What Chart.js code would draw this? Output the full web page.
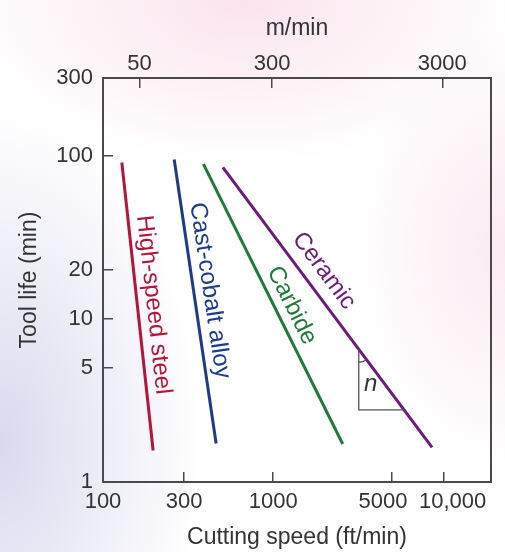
<!DOCTYPE html>
<html>
<head>
<meta charset="utf-8">
<title>Tool life vs cutting speed</title>
<script src="https://cdn.jsdelivr.net/npm/chart.js@4.4.1/dist/chart.umd.min.js"></script>
<style>
    html, body { margin: 0; padding: 0; }
    body {
        width: 505px;
        height: 552px;
        overflow: hidden;
        background:
            radial-gradient(ellipse 55% 30% at 48% 0%, rgba(246, 205, 222, 0.55), rgba(246, 205, 222, 0) 100%),
            radial-gradient(ellipse 30% 40% at 100% 45%, rgba(246, 208, 225, 0.45), rgba(246, 208, 225, 0) 100%),
            radial-gradient(ellipse 40% 60% at 0% 80%, rgba(205, 205, 232, 0.75), rgba(205, 205, 232, 0) 100%),
            #ffffff;
    }
    canvas { display: block; }
</style>
</head>
<body>
<canvas id="toolLifeChart" width="505" height="552"></canvas>
<script>
// Taylor tool-life lines (end points of each line)
const tools = ['High-speed steel', 'Cast-cobalt alloy', 'Carbide', 'Ceramic'];
const speedStart = [129, 262, 389, 506];      // ft/min, upper end
const speedEnd = [197, 462, 2560, 8570];      // ft/min, lower end
const lifeStart = [91, 95, 89, 85];           // min, upper end
const lifeEnd = [1.56, 1.72, 1.71, 1.63];     // min, lower end

// Axis ticks
const speedTicks = [100, 300, 1000, 5000, 10000];   // ft/min
const metricTicks = [50, 300, 3000];                // m/min
const lifeTicks = [1, 5, 10, 20, 100, 300];         // min

const SPEED_MIN = 100, SPEED_MAX = 19000;
const LIFE_MIN = 1, LIFE_MAX = 300;
const FT_PER_M = 3.281;

// slope triangle on the ceramic line
const slopeSpeed = 3180;
const slopeLife = 2.77;

const toolColors = ['#b3163a', '#1d3a8c', '#1f7a3c', '#6b1c78'];
const labelAt = [0.5, 0.47, 0.53, 0.41];
const labelOffset = [16, 16, 16, 19];

const FONT = "'Liberation Sans', Arial, Helvetica, sans-serif";
const AXIS_COLOR = '#4a4a4a';
const TEXT_COLOR = '#333333';

function fixedTicks(values) {
    return function(scale) {
        scale.ticks = values.map(v => ({ value: v }));
    };
}

function fixSize(prop, size) {
    return function(scale) {
        scale[prop] = size;
    };
}

// the two crowded labels at the right end are nudged apart, as in the figure
function speedLabel(v) {
    if (v === 5000) return '5000   ';
    if (v >= 10000) return '   ' + Number(v).toLocaleString('en-US');
    return String(v);
}

function linePixels(chart, ds) {
    const xs = chart.scales.x, ys = chart.scales.y;
    return [
        { x: xs.getPixelForValue(ds.data[0].x), y: ys.getPixelForValue(ds.data[0].y) },
        { x: xs.getPixelForValue(ds.data[1].x), y: ys.getPixelForValue(ds.data[1].y) }
    ];
}

// Rotated labels running along each line
const lineLabels = {
    id: 'lineLabels',
    afterDatasetsDraw(chart) {
        const ctx = chart.ctx;
        chart.data.datasets.forEach((ds, i) => {
            const [p0, p1] = linePixels(chart, ds);
            const a = Math.atan2(p1.y - p0.y, p1.x - p0.x);
            const t = labelAt[i], off = labelOffset[i];
            const cx = p0.x + (p1.x - p0.x) * t + Math.sin(a) * off;
            const cy = p0.y + (p1.y - p0.y) * t - Math.cos(a) * off;
            ctx.save();
            ctx.translate(cx, cy);
            ctx.rotate(a);
            ctx.font = '24px ' + FONT;
            ctx.fillStyle = ds.borderColor;
            ctx.textAlign = 'center';
            ctx.textBaseline = 'middle';
            ctx.fillText(ds.label, 0, 0);
            ctx.restore();
        });
    }
};

// Slope triangle with the "n" marker
const slopeMark = {
    id: 'slopeMark',
    afterDatasetsDraw(chart) {
        const ctx = chart.ctx;
        const [p0, p1] = linePixels(chart, chart.data.datasets[3]);
        const legX = chart.scales.x.getPixelForValue(slopeSpeed);
        const topY = p0.y + (legX - p0.x) * (p1.y - p0.y) / (p1.x - p0.x);
        const botY = chart.scales.y.getPixelForValue(slopeLife);
        const endX = p0.x + (botY - p0.y) * (p1.x - p0.x) / (p1.y - p0.y);
        const a = Math.atan2(p1.y - p0.y, p1.x - p0.x);

        ctx.save();
        ctx.strokeStyle = '#555555';
        ctx.lineWidth = 1.3;
        ctx.beginPath();
        ctx.moveTo(legX, topY);
        ctx.lineTo(legX, botY);
        ctx.lineTo(endX, botY);
        ctx.stroke();
        ctx.beginPath();
        ctx.arc(legX, topY, 13, a, Math.PI / 2);
        ctx.stroke();
        ctx.font = 'italic 24px ' + FONT;
        ctx.fillStyle = TEXT_COLOR;
        ctx.textAlign = 'center';
        ctx.textBaseline = 'middle';
        ctx.fillText('n', legX + 12, topY + (botY - topY) * 0.58);
        ctx.restore();
    }
};

const datasets = tools.map((name, i) => ({
    label: name,
    data: [
        { x: speedStart[i], y: lifeStart[i] },
        { x: speedEnd[i], y: lifeEnd[i] }
    ],
    borderColor: toolColors[i],
    borderWidth: 3,
    pointRadius: 0,
    fill: false,
    xAxisID: 'x',
    yAxisID: 'y'
}));

const tickFont = { family: FONT, size: 22 };
const titleFont = { family: FONT, size: 23 };
const inwardTicks = { drawOnChartArea: false, drawTicks: true, tickLength: -10, color: AXIS_COLOR, tickColor: AXIS_COLOR, lineWidth: 1.5, tickWidth: 1.5 };

new Chart(document.getElementById('toolLifeChart'), {
    type: 'line',
    data: { datasets: datasets },
    options: {
        responsive: false,
        animation: false,
        layout: { padding: 0 },
        plugins: {
            legend: { display: false },
            tooltip: { enabled: false }
        },
        scales: {
            x: {
                type: 'logarithmic',
                position: 'bottom',
                min: SPEED_MIN,
                max: SPEED_MAX,
                afterBuildTicks: fixedTicks(speedTicks),
                afterFit: fixSize('height', 70),
                ticks: {
                    color: TEXT_COLOR,
                    font: tickFont,
                    padding: 17,
                    maxRotation: 0,
                    autoSkip: false,
                    callback: speedLabel
                },
                grid: inwardTicks,
                border: { color: AXIS_COLOR, width: 2 },
                title: {
                    display: true,
                    text: 'Cutting speed (ft/min)',
                    color: TEXT_COLOR,
                    font: titleFont,
                    padding: { top: 0, bottom: 1 }
                }
            },
            xTop: {
                type: 'logarithmic',
                position: 'top',
                min: SPEED_MIN / FT_PER_M,
                max: SPEED_MAX / FT_PER_M,
                afterBuildTicks: fixedTicks(metricTicks),
                afterFit: fixSize('height', 78),
                ticks: {
                    color: TEXT_COLOR,
                    font: tickFont,
                    padding: 11,
                    maxRotation: 0,
                    autoSkip: false,
                    callback: v => String(v)
                },
                grid: inwardTicks,
                border: { color: AXIS_COLOR, width: 2 },
                title: {
                    display: true,
                    text: 'm/min',
                    color: TEXT_COLOR,
                    font: titleFont,
                    padding: { top: 15, bottom: 0 }
                }
            },
            y: {
                type: 'logarithmic',
                position: 'left',
                min: LIFE_MIN,
                max: LIFE_MAX,
                afterBuildTicks: fixedTicks(lifeTicks),
                afterFit: fixSize('width', 103),
                ticks: {
                    color: TEXT_COLOR,
                    font: tickFont,
                    padding: 20,
                    autoSkip: false,
                    callback: v => String(v)
                },
                grid: inwardTicks,
                border: { color: AXIS_COLOR, width: 2 },
                title: {
                    display: true,
                    text: 'Tool life (min)',
                    color: TEXT_COLOR,
                    font: titleFont,
                    padding: { top: 16, bottom: 0 }
                }
            },
            yRight: {
                type: 'logarithmic',
                position: 'right',
                min: LIFE_MIN,
                max: LIFE_MAX,
                afterFit: fixSize('width', 14),
                ticks: { display: false },
                grid: { drawOnChartArea: false, drawTicks: false },
                border: { color: AXIS_COLOR, width: 2 }
            }
        }
    },
    plugins: [lineLabels, slopeMark]
});
</script>
</body>
</html>
